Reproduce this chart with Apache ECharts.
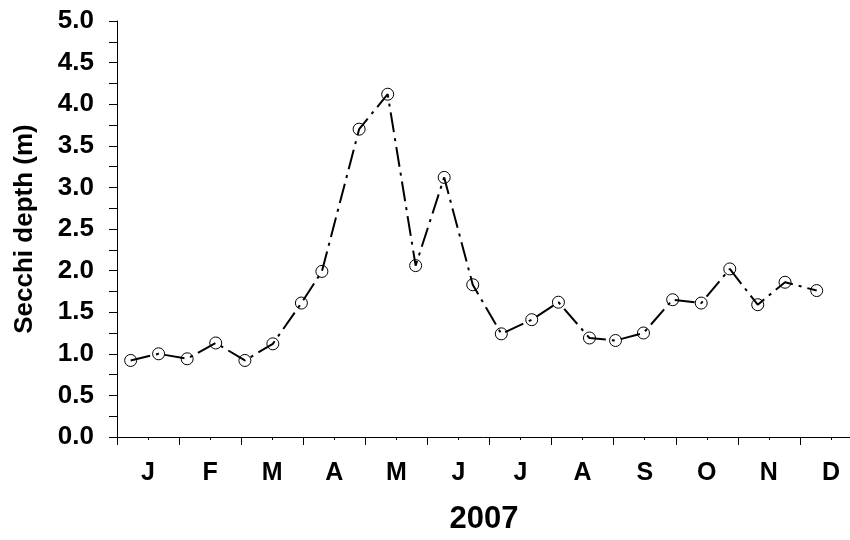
<!DOCTYPE html>
<html>
<head>
<meta charset="utf-8">
<script src="https://cdn.jsdelivr.net/npm/echarts@6/dist/echarts.min.js"></script>
<style>
html,body{margin:0;padding:0;background:#fff;}
#chart{width:850px;height:540px;}
</style>
</head>
<body>
<div id="chart"></div>
<script>
// Month tick labels
const months = ['J','F','M','A','M','J','J','A','S','O','N','D'];
// Sampling dates, in months since 1 Jan 2007
const sampleMonth = [0.22,0.67,1.13,1.59,2.06,2.51,2.97,3.30,3.90,4.36,4.81,5.27,5.73,6.19,6.68,7.11,7.61,8.03,8.48,8.95,9.41,9.87,10.32,10.76,11.27];
// Secchi depth (m)
const secchi = [0.92,1.00,0.94,1.13,0.92,1.12,1.61,1.99,3.70,4.12,2.06,3.12,1.83,1.24,1.41,1.62,1.19,1.16,1.25,1.65,1.61,2.02,1.59,1.86,1.76];
const yTitle = 'Secchi depth (m)';
const xTitle = '2007';

const FONT = '"Liberation Sans", Arial, sans-serif';
const chart = echarts.init(document.getElementById('chart'), null, {renderer:'canvas'});
const points = sampleMonth.map((m,i)=>[m, secchi[i]]);
const xMax = 732 / 62; // visible part of the year (axis runs off the right edge)

chart.setOption({
  animation:false,
  backgroundColor:'#fff',
  grid:{left:117, top:21, right:0, height:416, containLabel:false},
  xAxis:[
    {type:'value', min:0, max:xMax, interval:1,
     axisLine:{show:true, lineStyle:{color:'#000', width:1}},
     axisTick:{show:true, length:8, lineStyle:{color:'#000'}},
     minorTick:{show:true, splitNumber:2, length:3, lineStyle:{color:'#000'}},
     axisLabel:{show:false}, splitLine:{show:false}},
    {type:'value', min:0, max:xMax, interval:0.5, position:'bottom',
     axisLine:{show:false}, axisTick:{show:false}, splitLine:{show:false},
     axisLabel:{show:true, margin:24, fontSize:25, fontWeight:'bold', fontFamily:FONT, color:'#000',
       showMinLabel:false, showMaxLabel:false,
       formatter:v=>{const k=Math.round(v*2); return (k%2===1 && k<24) ? months[(k-1)/2] : '';}}}
  ],
  yAxis:{type:'value', min:0, max:5, interval:0.5,
     name:yTitle, nameLocation:'middle', nameGap:79, nameRotate:90,
     nameTextStyle:{fontSize:26, fontWeight:'bold', fontFamily:FONT, color:'#000'},
     axisLine:{show:true, lineStyle:{color:'#000', width:1}},
     axisTick:{show:true, length:8, lineStyle:{color:'#000'}},
     minorTick:{show:true, splitNumber:2, length:8, lineStyle:{color:'#000'}},
     axisLabel:{margin:23, fontSize:26, fontWeight:'bold', fontFamily:FONT, color:'#000', formatter:v=>v.toFixed(1)},
     splitLine:{show:false}},
  graphic:[{type:'text', x:484, y:519, style:{text:xTitle, textAlign:'center', textVerticalAlign:'middle', fontSize:31, fontWeight:'bold', fontFamily:FONT, fill:'#000'}}],
  series:[{
    type:'line', xAxisIndex:0, data:points,
    symbol:'circle', symbolSize:12,
    itemStyle:{color:'rgba(0,0,0,0)', borderColor:'#000', borderWidth:1},
    lineStyle:{color:'#000', width:2, type:[20,6,3,6]},
    emphasis:{disabled:true}
  }]
});
</script>
</body>
</html>
